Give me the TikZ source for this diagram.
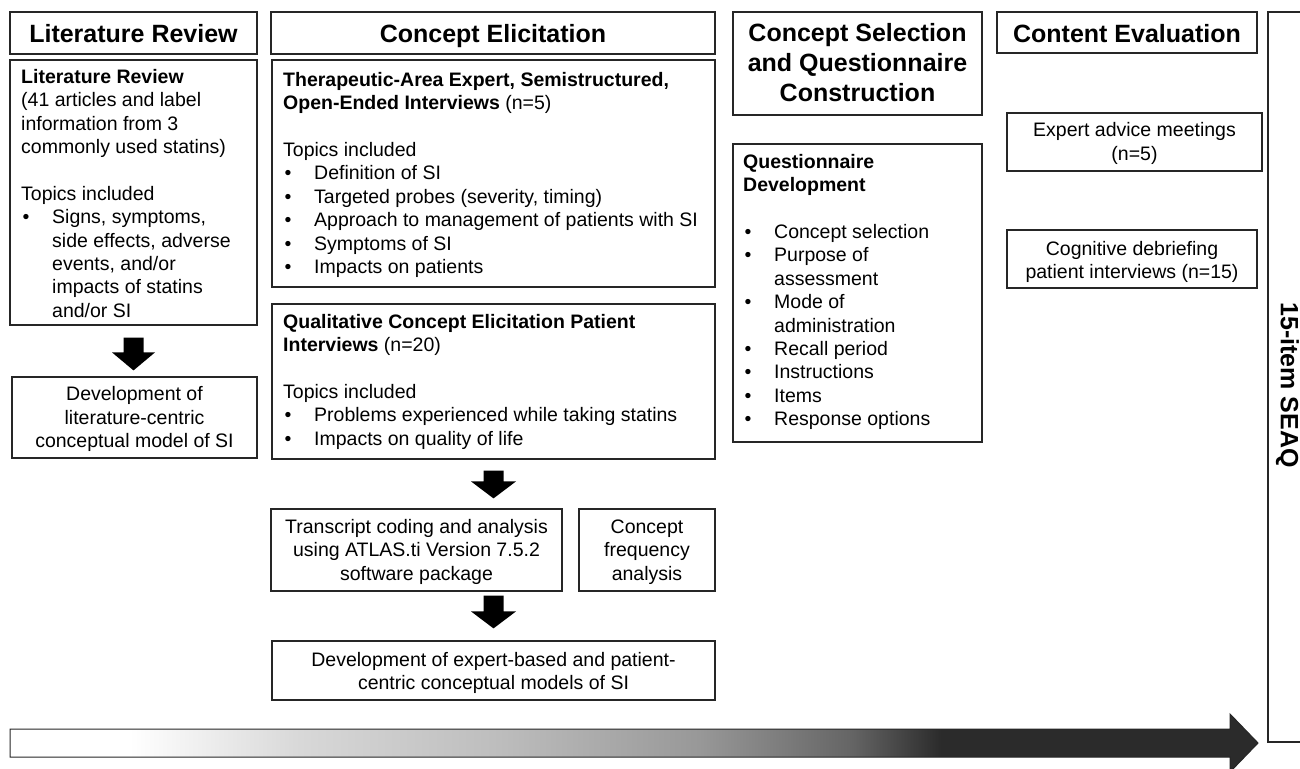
\documentclass[tikz,border=0pt]{standalone}
\usepackage{fontspec}
\setmainfont{Liberation Sans}
\usetikzlibrary{calc,fit}
\definecolor{gA}{HTML}{D8D8D8}
\definecolor{gB}{HTML}{BDBDBD}
\definecolor{gC}{HTML}{989898}
\definecolor{gD}{HTML}{656565}
\definecolor{gE}{HTML}{2B2B2B}
\definecolor{lineC}{HTML}{262626}
\pgfdeclarehorizontalshading{timeline}{100bp}{color(0bp)=(white); color(29.8bp)=(white); color(36.6bp)=(gA); color(44.6bp)=(gB); color(52.6bp)=(gC); color(58.7bp)=(gD); color(62.3bp)=(gE); color(100bp)=(gE)}
\newcommand\bodyf{\fontsize{19.5}{23.4}\selectfont}
\newcommand\headf{\fontsize{25}{30}\selectfont\bfseries}
\newcommand\bu{\makebox[31pt][l]{\hspace{1.5pt}\textbullet}}
\newcommand\ind{\hspace*{31pt}}
\newcommand\fs{\rule{0pt}{18pt}}
\newcommand\hs{\rule{0pt}{20pt}}
% block arrow pointing down: #1 start point, #2 tip point (y only), #3 shaft half width, #4 head half width, #5 head length
\newcommand\blockdown[5]{%
  \fill[black] let \p1=(#1), \p2=(#2) in
   (\x1-#3,\y1) -- (\x1+#3,\y1) -- (\x1+#3,\y2+#5) -- (\x1+#4,\y2+#5) -- (\x1,\y2)
   -- (\x1-#4,\y2+#5) -- (\x1-#3,\y2+#5) -- cycle;}
\tikzset{
  box/.style={draw=lineC, line width=1.2pt, inner sep=0pt},
  txt/.style={inner sep=0pt, font=\bodyf, align=left, anchor=north west},
  ctxt/.style={inner sep=0pt, font=\bodyf, align=center, anchor=north},
  htxt/.style={inner sep=0pt, font=\headf, align=center, anchor=north},
}
\begin{document}
\begin{tikzpicture}[x=1pt,y=-1pt]
\useasboundingbox (0,0) rectangle (1300,768);
% header boxes
\node[box, fit={(10,12) (257,54)}] (h1) {};
\node[box, fit={(271,12) (715,54)}] (h2) {};
\node[box, fit={(733,12) (982,115)}] (h3) {};
\node[box, fit={(997,12) (1257,53)}] (h4) {};
\node[box, fit={(1268,12) (1330,742)}] (seaq) {};
% content boxes
\node[box, fit={(10,60) (257,325)}] (lrbox) {};
\node[box, fit={(12,377) (257,458)}] (lrdev) {};
\node[box, fit={(272,60) (715,287)}] (ther) {};
\node[box, fit={(272,304) (715,459)}] (qual) {};
\node[box, fit={(271,509) (562,591)}] (tr) {};
\node[box, fit={(579,509) (715,591)}] (cf) {};
\node[box, fit={(272,641) (715,700)}] (fin) {};
\node[box, fit={(733,144) (982,442)}] (qd) {};
\node[box, fit={(1007,113) (1262,171)}] (ea) {};
\node[box, fit={(1007,230) (1257,288)}] (cd) {};
% header texts
\node[htxt] (h1t) at (133.5,22) {\hs Literature Review};
\node[htxt] (h2t) at (493,22) {\hs Concept Elicitation};
\node[htxt] (h3t) at (857.5,21.7) {\hs Concept Selection\\and Questionnaire\\Construction};
\node[htxt] (h4t) at (1127,22) {\hs Content Evaluation};
\node[font=\headf, rotate=-90, inner sep=0pt] (seaqt) at (1287.5,385) {15-item SEAQ};
% content texts
\node[txt] (lrt) at (21,65) {\fs\textbf{Literature Review}\\
(41 articles and label\\
information from 3\\
commonly used statins)\\[23.4pt]
Topics included\\
\bu Signs, symptoms,\\
\ind side effects, adverse\\
\ind events, and/or\\
\ind impacts of statins\\
\ind and/or SI};
\node[txt] (thert) at (283,68) {\fs\textbf{Therapeutic-Area Expert, Semistructured,}\\
\textbf{Open-Ended Interviews} (n=5)\\[23.4pt]
Topics included\\
\bu Definition of SI\\
\bu Targeted probes (severity, timing)\\
\bu Approach to management of patients with SI\\
\bu Symptoms of SI\\
\bu Impacts on patients};
\node[txt] (qualt) at (283,310) {\fs\textbf{Qualitative Concept Elicitation Patient}\\
\textbf{Interviews} (n=20)\\[23.4pt]
Topics included\\
\bu Problems experienced while taking statins\\
\bu Impacts on quality of life};
\node[txt] (qdt) at (743,150) {\fs\textbf{Questionnaire}\\
\textbf{Development}\\[23.4pt]
\bu Concept selection\\
\bu Purpose of\\
\ind assessment\\
\bu Mode of\\
\ind administration\\
\bu Recall period\\
\bu Instructions\\
\bu Items\\
\bu Response options};
\node[ctxt] (lrdevt) at (134.5,382.7) {\fs Development of\\literature-centric\\conceptual model of SI};
\node[ctxt] (trt) at (416.5,515) {\fs Transcript coding and analysis\\using ATLAS.ti Version 7.5.2\\software package};
\node[ctxt] (cft) at (647,515) {\fs Concept\\frequency\\analysis};
\node[ctxt] (fint) at (493.5,648) {\fs Development of expert-based and patient-\\centric conceptual models of SI};
\node[ctxt] (eat) at (1134.5,118.7) {\fs Expert advice meetings\\(n=5)};
\node[ctxt] (cdt) at (1132,237) {\fs Cognitive debriefing\\patient interviews (n=15)};
% block arrows
\blockdown{[yshift=-12pt]lrbox.south}{[yshift=6pt]lrdev.north}{10pt}{21.5pt}{18pt}
\blockdown{[yshift=-11pt]qual.south}{[yshift=10pt]tr.north}{10pt}{22.5pt}{17pt}
\blockdown{[yshift=-4pt]tr.south -| fin.north}{[yshift=12pt]fin.north}{10pt}{22.5pt}{17pt}
% timeline arrow
\path[shading=timeline, draw=lineC, line width=1pt]
  (10,729) -- (1230,729) -- (1230,714) -- (1258,743) -- (1230,772) -- (1230,757) -- (10,757) -- cycle;
\end{tikzpicture}
\end{document}
